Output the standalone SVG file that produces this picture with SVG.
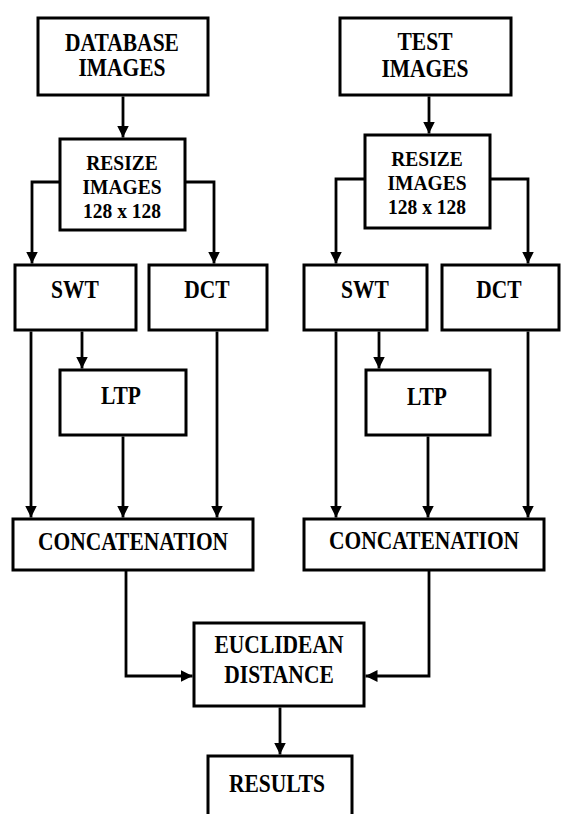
<svg xmlns="http://www.w3.org/2000/svg" width="561" height="814" viewBox="0 0 561 814">
<style>
rect.box{fill:#fff;stroke:#000;stroke-width:3}
.ln{fill:none;stroke:#000;stroke-width:2.8}
text{font-family:'Liberation Serif','DejaVu Serif',serif;font-weight:bold;font-size:21.5px;fill:#000;text-anchor:middle}
text.sm{font-size:19.5px}
</style>
<defs>
<marker id="ah" viewBox="0 0 12 12" refX="12" refY="6" markerWidth="12" markerHeight="12" markerUnits="userSpaceOnUse" orient="auto">
<path d="M0,0 L12,6 L0,12 z" fill="#000"/>
</marker>
</defs>
<rect width="561" height="814" fill="#fff"/>
<g id="connectors" class="ln" marker-end="url(#ah)">
<path d="M123,96.5 V137.5"/>
<path d="M60,182 H32 V263.5"/>
<path d="M185,182 H214 V263.5"/>
<path d="M82,331.5 V368.5"/>
<path d="M31,331.5 V517.5"/>
<path d="M123,436.5 V517.5"/>
<path d="M217,331.5 V517.5"/>
<path d="M429,96.5 V133.5"/>
<path d="M365,179 H336 V263.5"/>
<path d="M490,179 H528 V263.5"/>
<path d="M379,331.5 V368.5"/>
<path d="M336,331.5 V517.5"/>
<path d="M428,436.5 V517.5"/>
<path d="M528,331.5 V517.5"/>
<path d="M126,570.5 V676 H192.5"/>
<path d="M429,570.5 V676 H365.5"/>
<path d="M280,707.5 V754.5"/>
</g>
<g id="db">
<rect class="box" x="38" y="18" width="170" height="77"/>
<text transform="translate(122,51) scale(1,1.15)">DATABASE</text>
<text transform="translate(122,76) scale(1,1.15)">IMAGES</text>
</g>
<g id="resizeL">
<rect class="box" x="60" y="139" width="125" height="91"/>
<text class="sm" transform="translate(122,170) scale(1,1.1)">RESIZE</text>
<text class="sm" transform="translate(122,194) scale(1,1.1)">IMAGES</text>
<text class="sm" transform="translate(122,218) scale(1,1.1)">128 x 128</text>
</g>
<g id="swtL">
<rect class="box" x="15" y="265" width="121" height="65"/>
<text transform="translate(75,298) scale(1,1.18)">SWT</text>
</g>
<g id="dctL">
<rect class="box" x="149" y="265" width="118" height="65"/>
<text transform="translate(207,298) scale(1,1.18)">DCT</text>
</g>
<g id="ltpL">
<rect class="box" x="60" y="370" width="126" height="65"/>
<text transform="translate(121,404) scale(1,1.18)">LTP</text>
</g>
<g id="concatL">
<rect class="box" x="13" y="519" width="240" height="51"/>
<text transform="translate(133,550) scale(1,1.18)">CONCATENATION</text>
</g>
<g id="test">
<rect class="box" x="340" y="18" width="171" height="77"/>
<text transform="translate(425,50) scale(1,1.15)">TEST</text>
<text transform="translate(425,77) scale(1,1.15)">IMAGES</text>
</g>
<g id="resizeR">
<rect class="box" x="365" y="135" width="125" height="93"/>
<text class="sm" transform="translate(427,166) scale(1,1.1)">RESIZE</text>
<text class="sm" transform="translate(427,190) scale(1,1.1)">IMAGES</text>
<text class="sm" transform="translate(427,214) scale(1,1.1)">128 x 128</text>
</g>
<g id="swtR">
<rect class="box" x="304" y="265" width="123" height="65"/>
<text transform="translate(365,298) scale(1,1.18)">SWT</text>
</g>
<g id="dctR">
<rect class="box" x="442" y="265" width="117" height="65"/>
<text transform="translate(499,298) scale(1,1.18)">DCT</text>
</g>
<g id="ltpR">
<rect class="box" x="366" y="370" width="124" height="65"/>
<text transform="translate(427,405) scale(1,1.18)">LTP</text>
</g>
<g id="concatR">
<rect class="box" x="304" y="519" width="240" height="51"/>
<text transform="translate(424,549) scale(1,1.18)">CONCATENATION</text>
</g>
<g id="euclid">
<rect class="box" x="194" y="623" width="170" height="83"/>
<text transform="translate(279,653) scale(1,1.15)">EUCLIDEAN</text>
<text transform="translate(279,683) scale(1,1.15)">DISTANCE</text>
</g>
<g id="results">
<rect class="box" x="208" y="756" width="144" height="70"/>
<text transform="translate(277,792) scale(1,1.18)">RESULTS</text>
</g>
</svg>
